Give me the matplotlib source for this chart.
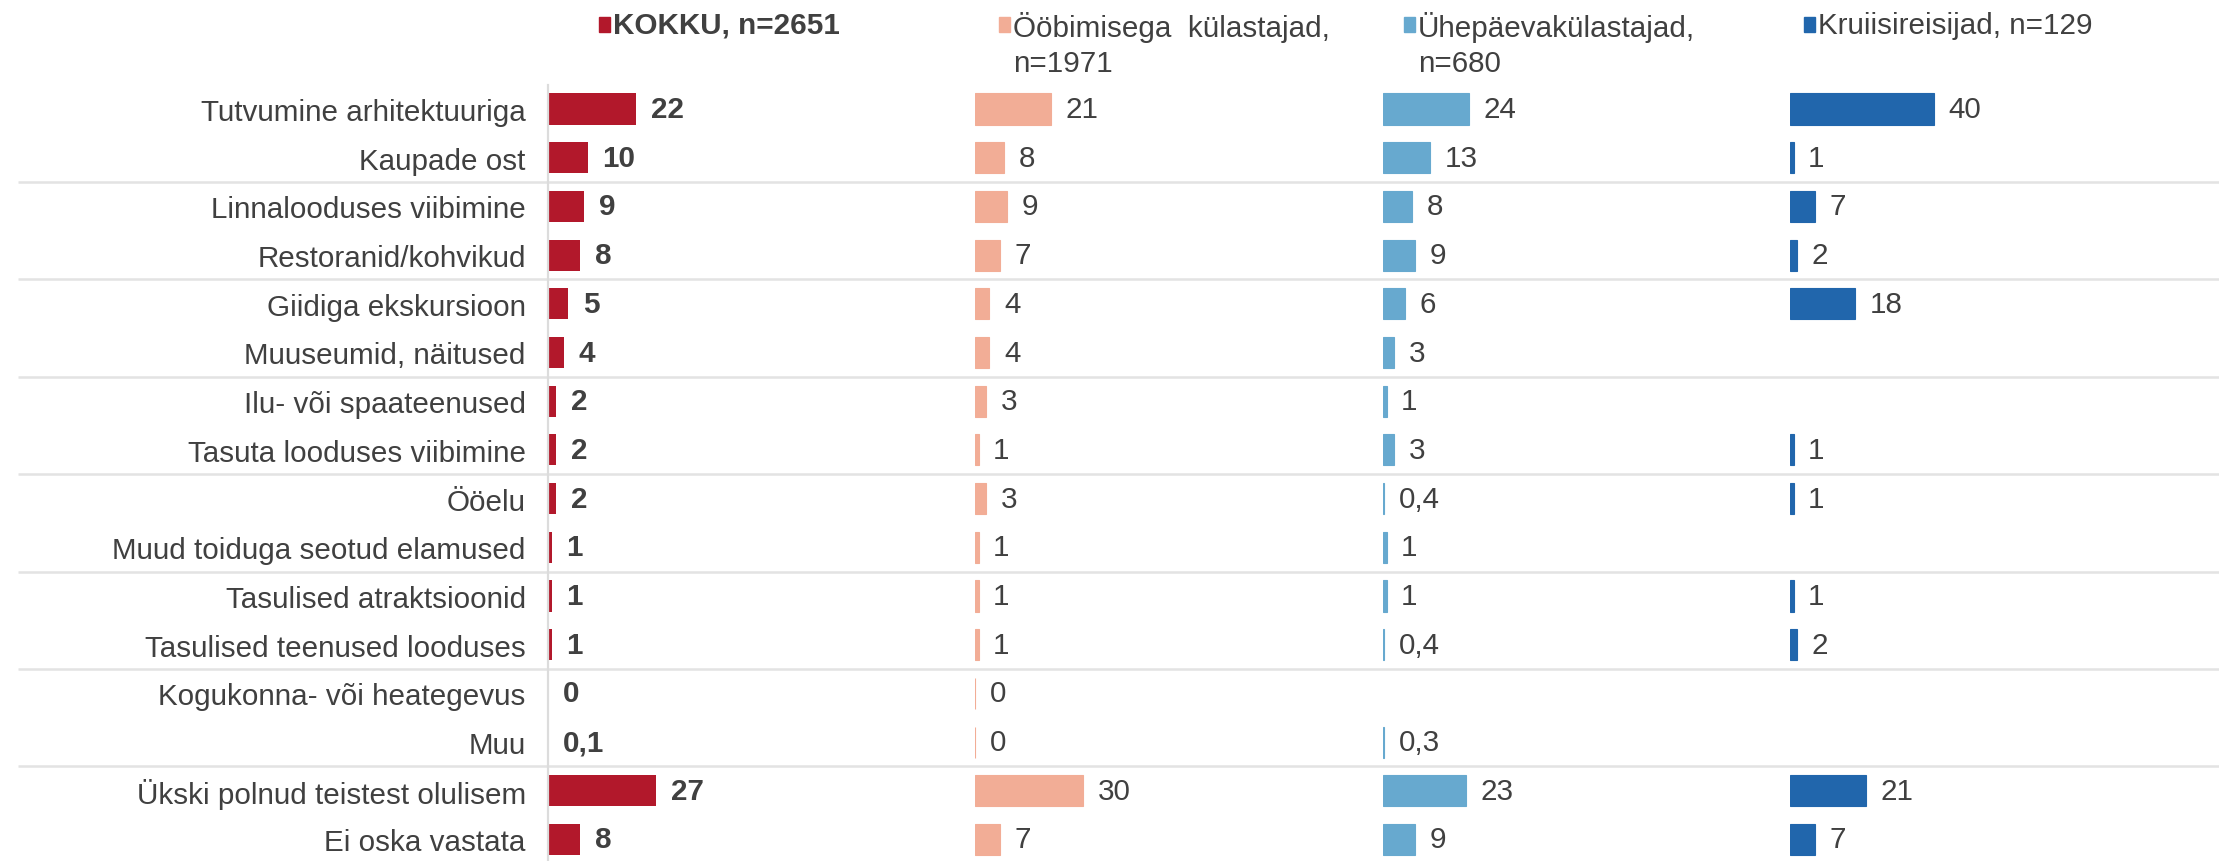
import matplotlib.pyplot as plt
from matplotlib.patches import Rectangle

categories = ["Tutvumine arhitektuuriga", "Kaupade ost", "Linnalooduses viibimine",
              "Restoranid/kohvikud", "Giidiga ekskursioon", "Muuseumid, näitused",
              "Ilu- või spaateenused", "Tasuta looduses viibimine", "Ööelu",
              "Muud toiduga seotud elamused", "Tasulised atraktsioonid",
              "Tasulised teenused looduses", "Kogukonna- või heategevus", "Muu",
              "Ükski polnud teistest olulisem", "Ei oska vastata"]
kokku = [22, 10, 9, 8, 5, 4, 2, 2, 2, 1, 1, 1, 0, 0.1, 27, 8]
oobimisega = [21, 8, 9, 7, 4, 4, 3, 1, 3, 1, 1, 1, 0, 0, 30, 7]
uhepaeva = [24, 13, 8, 9, 6, 3, 1, 3, 0.4, 1, 1, 0.4, None, 0.3, 23, 9]
kruiis = [40, 1, 7, 2, 18, None, None, 1, 1, None, 1, 2, None, None, 21, 7]
series = [kokku, oobimisega, uhepaeva, kruiis]
legend_labels = ["KOKKU, n=2651", "Ööbimisega  külastajad,\nn=1971",
                 "Ühepäevakülastajad,\nn=680", "Kruiisireisijad, n=129"]
colors = ["#B2182B", "#F2AD96", "#67A9CF", "#2166AC"]

FONT = ["Liberation Sans Narrow", "Liberation Sans", "DejaVu Sans"]
FS = 21.3
TXT = "#404040"

W, H = 2219, 862
def px_rect(x0, y0, w, h):
    return [x0 / W, 1 - (y0 + h) / H, w / W, h / H]

fig = plt.figure(figsize=(W / 100, H / 100), dpi=100)

n = len(categories)
row0, step = 110, 48.7
top = row0 - step / 2

# background axes for the row separators
bg = fig.add_axes(px_rect(0, top, W, step * n))
bg.set_xlim(0, W)
bg.set_ylim(n - 0.5, -0.5)
bg.axis("off")
bg.hlines([1.5, 3.5, 5.5, 7.5, 9.5, 11.5, 13.5], 18, W, color="#e3e3e3", lw=1.8)

starts = [548, 975, 1383, 1790]
widths = [400, 360, 360, 360]
marker_x = [599, 999, 1404, 1804]

for k, vals in enumerate(series):
    ax = fig.add_axes(px_rect(starts[k], top, widths[k], step * n))
    ax.patch.set_alpha(0)
    ax.set_xlim(0, 100)
    ax.set_ylim(n - 0.5, -0.5)
    for s in ax.spines.values():
        s.set_visible(False)
    ax.set_xticks([])
    ys = [i for i, v in enumerate(vals) if v is not None]
    vs = [v for v in vals if v is not None]
    ax.barh(ys, vs, height=0.64, color=colors[k],
            edgecolor=colors[k], linewidth=0 if k == 0 else 0.8)
    for y, v in zip(ys, vs):
        lab = str(int(v)) if v == int(v) else str(v).replace(".", ",")
        ax.annotate(lab, (v, y), xytext=(10.5, 0), textcoords="offset points",
                    va="center", ha="left", fontsize=FS, color=TXT,
                    family=FONT, fontweight="bold" if k == 0 else "normal")
    if k == 0:
        ax.spines["left"].set_visible(True)
        ax.spines["left"].set_color("#dcdcdc")
        ax.spines["left"].set_linewidth(1.6)
        ax.set_yticks(range(n))
        ax.set_yticklabels(categories, fontsize=FS, color=TXT, family=FONT)
        ax.tick_params(axis="y", length=0, pad=16)
    else:
        ax.set_yticks([])

    # legend entry
    fig.add_artist(Rectangle((marker_x[k] / W, 1 - 33 / H), 11 / W, 15 / H,
                             transform=fig.transFigure, color=colors[k]))
    fig.text((marker_x[k] + 14) / W, 1 - 12 / H, legend_labels[k], ha="left",
             va="top", fontsize=FS, color=TXT, family=FONT, linespacing=1.32,
             fontweight="bold" if k == 0 else "normal")

fig.savefig("out.png", dpi=100)
